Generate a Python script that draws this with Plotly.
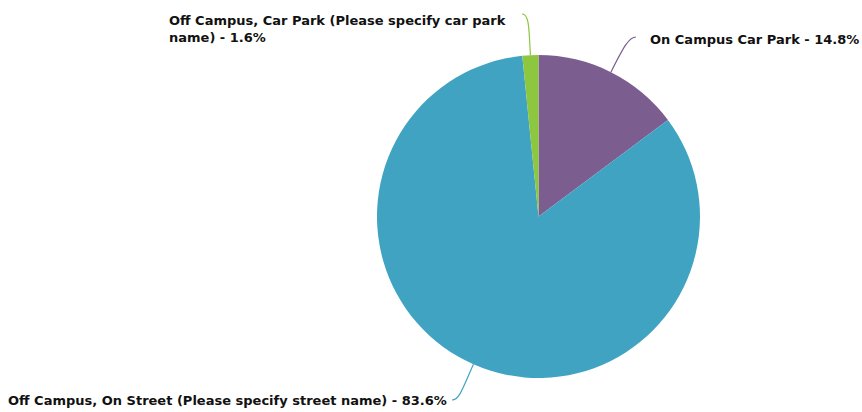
import math
import plotly.graph_objects as go

# Parking location shares (%)
categories = [
    "On Campus Car Park",
    "Off Campus, On Street (Please specify street name)",
    "Off Campus, Car Park (Please specify car park name)",
]
shares = [14.8, 83.6, 1.6]
colors = ["#7b5e8f", "#41a3c2", "#8dc63f"]

W, H = 862, 412
CX, CY, R = 538.5, 216.5, 161.5

fig = go.Figure(go.Pie(
    labels=categories,
    values=shares,
    marker=dict(colors=colors, line=dict(width=0)),
    sort=False,
    direction="clockwise",
    rotation=0,
    textinfo="none",
    hoverinfo="label+percent",
    domain=dict(x=[(CX - R) / W, (CX + R) / W], y=[(H - CY - R) / H, (H - CY + R) / H]),
    showlegend=False,
))

# label text blocks and where each one sits (pixel coordinates)
label_text = [
    "On Campus Car Park - 14.8%",
    "Off Campus, On Street (Please specify street name) - 83.6%",
    "Off Campus, Car Park (Please specify car park<br>name) - 1.6%",
]
label_anchor = [(648, 40, "left"), (449, 400, "right"), (508, 29, "right")]
connector_end = [(636, 37), (452, 400), (522, 14)]


def px(x, y):
    return x / W, 1 - y / H


total = sum(shares)
start = 0.0
shapes = []
annotations = []
for i, v in enumerate(shares):
    mid = (start + v / 2) / total * 2 * math.pi
    start += v
    ux, uy = math.sin(mid), -math.cos(mid)
    p0 = (CX + R * ux, CY + R * uy)
    ex, ey = connector_end[i]
    c1 = (p0[0] + ux * 28, p0[1] + uy * 28)
    side = 1 if ex > CX else -1
    c2 = (ex - side * 7, ey)
    pts = [px(*p0), px(*c1), px(*c2), px(ex, ey)]
    path = "M {} {} C {} {}, {} {}, {} {}".format(*[c for p in pts for c in p])
    shapes.append(dict(type="path", path=path, xref="paper", yref="paper",
                       line=dict(color=colors[i], width=1.2)))
    lx, ly, anc = label_anchor[i]
    ax, ay = px(lx, ly)
    annotations.append(dict(
        x=ax, y=ay, xref="paper", yref="paper", text="<b>" + label_text[i] + "</b>",
        showarrow=False, xanchor=anc, yanchor="middle", align="left",
        font=dict(family="DejaVu Sans", size=13, color="#111111"),
    ))

fig.update_layout(
    width=W, height=H,
    margin=dict(l=0, r=0, t=0, b=0),
    paper_bgcolor="white",
    plot_bgcolor="white",
    shapes=shapes,
    annotations=annotations,
)

fig.write_html("out.html")
